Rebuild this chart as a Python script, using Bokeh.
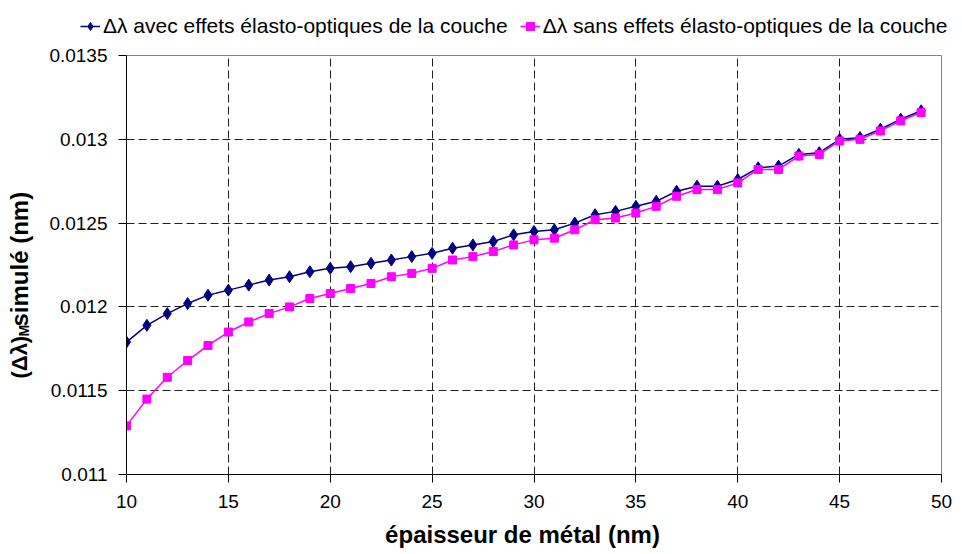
import math
from bokeh.plotting import figure
from bokeh.layouts import column, row
from bokeh.models import (ColumnDataSource, FixedTicker, PrintfTickFormatter, Legend,
                          LegendItem, Label, Range1d)
from bokeh.embed import file_html
from bokeh.resources import INLINE

# ---- data ----
thickness = list(range(10, 50))
with_elasto = [0.01179, 0.01189, 0.01196, 0.01202, 0.01207, 0.01210, 0.01213, 0.01216,
               0.01218, 0.01221, 0.01223, 0.01224, 0.01226, 0.01228, 0.01230, 0.01232,
               0.01235, 0.01237, 0.01239, 0.01243, 0.01245, 0.01246, 0.01250, 0.01255,
               0.01257, 0.01260, 0.01263, 0.01269, 0.01272, 0.01272, 0.01276, 0.01283,
               0.01284, 0.01291, 0.01292, 0.01300, 0.01301, 0.01306, 0.01312, 0.01317]
without_elasto = [0.01129, 0.01145, 0.01158, 0.01168, 0.01177, 0.01185, 0.01191, 0.01196,
                  0.01200, 0.01205, 0.01208, 0.01211, 0.01214, 0.01218, 0.01220, 0.01223,
                  0.01228, 0.01230, 0.01233, 0.01237, 0.01240, 0.01241, 0.01246, 0.01252,
                  0.01253, 0.01256, 0.01260, 0.01266, 0.01270, 0.01270, 0.01274, 0.01282,
                  0.01282, 0.01290, 0.01291, 0.01299, 0.01300, 0.01305, 0.01311, 0.01316]
x_ticks = [10, 15, 20, 25, 30, 35, 40, 45, 50]
y_ticks = [0.011, 0.0115, 0.012, 0.0125, 0.013, 0.0135]
label_with = "Δλ avec effets élasto-optiques de la couche"
label_without = "Δλ sans effets élasto-optiques de la couche"
x_title = "épaisseur de métal (nm)"
y_title_parts = ["(Δλ)", "M", " simulé (nm)"]

FONT = "Liberation Sans"
BLUE = "#000080"
PINK = "#FF00FF"

TOP_H = 46
LEFT_W = 46
BOTTOM_H = 32
MID_H = 554 - TOP_H - BOTTOM_H   # page y from 46 to 522


def blank_fig(w, h):
    f = figure(width=w, height=h, output_backend="svg", toolbar_location=None,
               x_range=Range1d(0, 1), y_range=Range1d(0, 1),
               min_border_left=0, min_border_right=0, min_border_top=0,
               min_border_bottom=0, x_axis_type=None, y_axis_type=None)
    f.outline_line_color = None
    f.xgrid.visible = False
    f.ygrid.visible = False
    f.background_fill_color = "white"
    f.border_fill_color = "white"
    return f


# ---- main chart ----
p = figure(width=962 - LEFT_W, height=MID_H, output_backend="svg",
           toolbar_location=None,
           x_range=Range1d(10, 50), y_range=Range1d(0.011, 0.0135),
           min_border_left=126 - LEFT_W, min_border_right=21, min_border_top=55 - TOP_H,
           min_border_bottom=(TOP_H + MID_H) - 474)
p.background_fill_color = "white"
p.border_fill_color = "white"
p.outline_line_color = "#808080"
p.outline_line_width = 1

src = ColumnDataSource(dict(x=thickness, a=with_elasto, b=without_elasto))

p.line("x", "a", source=src, line_color=BLUE, line_width=1.5)
p.scatter("x", "a", source=src, marker="diamond", size=12,
          fill_color=BLUE, line_color=BLUE)
p.line("x", "b", source=src, line_color=PINK, line_width=1.5)
p.scatter("x", "b", source=src, marker="square", size=8,
          fill_color=PINK, line_color=PINK)

p.xaxis.ticker = FixedTicker(ticks=x_ticks)
p.yaxis.ticker = FixedTicker(ticks=y_ticks)
p.yaxis.formatter = PrintfTickFormatter(format="%g")
for ax in (p.xaxis[0], p.yaxis[0]):
    ax.axis_line_color = "black"
    ax.axis_line_width = 1
    ax.major_tick_line_color = "black"
    ax.major_tick_out = 8
    ax.major_tick_in = 0
    ax.minor_tick_line_color = None
    ax.major_label_text_font = FONT
    ax.major_label_text_font_size = "19px"
    ax.major_label_text_color = "black"
p.xaxis.major_label_standoff = 12
p.yaxis.major_label_standoff = 11

for g in (p.xgrid[0], p.ygrid[0]):
    g.grid_line_color = "#222222"
    g.grid_line_dash = "8 4"
    g.grid_line_width = 1
p.xgrid.ticker = FixedTicker(ticks=x_ticks[1:-1])
p.ygrid.ticker = FixedTicker(ticks=y_ticks[1:])

# ---- legend strip ----
top = blank_fig(962, TOP_H)
dummy = ColumnDataSource(dict(x=[-5.0, -4.0], y=[-5.0, -4.0]))
dl1 = top.line("x", "y", source=dummy, line_color=BLUE, line_width=1.5)
ds1 = top.scatter("x", "y", source=dummy, marker="diamond", size=12,
                  fill_color=BLUE, line_color=BLUE)
dl2 = top.line("x", "y", source=dummy, line_color=PINK, line_width=1.5)
ds2 = top.scatter("x", "y", source=dummy, marker="square", size=8,
                  fill_color=PINK, line_color=PINK)
legend = Legend(items=[LegendItem(label=label_with, renderers=[dl1, ds1]),
                       LegendItem(label=label_without, renderers=[dl2, ds2])],
                orientation="horizontal", location=(80, 8),
                label_text_font=FONT, label_text_font_size="21px",
                label_text_color="black",
                label_standoff=3, spacing=12, padding=5, margin=0,
                glyph_width=20, border_line_color=None, background_fill_alpha=0)
top.add_layout(legend, "center")

# ---- y title strip ----
left = blank_fig(LEFT_W, MID_H)
YB = 476   # calibrated reference for screen-unit y in this strip
ang = math.pi / 2
left.add_layout(Label(x=19, y=YB - 380, x_units="screen", y_units="screen",
                      text=y_title_parts[0], angle=ang, text_font=FONT,
                      text_font_size="22px", text_font_style="bold",
                      text_align="left", text_baseline="alphabetic", text_color="black"))
left.add_layout(Label(x=23, y=YB - 338, x_units="screen", y_units="screen",
                      text=y_title_parts[1], angle=ang, text_font=FONT,
                      text_font_size="14px", text_font_style="bold",
                      text_align="left", text_baseline="alphabetic", text_color="black"))
left.add_layout(Label(x=19, y=YB - 328, x_units="screen", y_units="screen",
                      text=y_title_parts[2], angle=ang, text_font=FONT,
                      text_font_size="24px", text_font_style="bold",
                      text_align="left", text_baseline="alphabetic", text_color="black"))

# ---- x title strip ----
bottom = blank_fig(962, BOTTOM_H)
bottom.add_layout(Label(x=522, y=20, x_units="screen", y_units="screen",
                        text=x_title, text_font=FONT, text_font_size="24px",
                        text_font_style="bold", text_align="center",
                        text_baseline="alphabetic", text_color="black"))

layout = column(top, row(left, p, spacing=0), bottom, spacing=0)
open("out.html", "w").write(file_html(layout, INLINE))
